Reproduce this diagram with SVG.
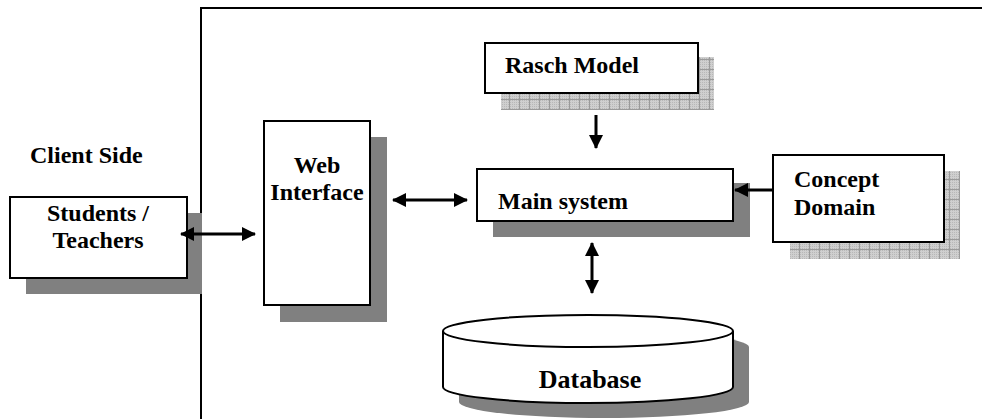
<svg xmlns="http://www.w3.org/2000/svg" width="982" height="419" viewBox="0 0 982 419">
  <defs>
    <style>
      .box { fill: #ffffff; stroke: #000000; stroke-width: 2; }
      .shadow { fill: #808080; }
      .hatch { fill: url(#grid); }
      .label { font-family: "Liberation Serif", "Times New Roman", serif; font-weight: bold; font-size: 24px; fill: #000000; }
      .wire { stroke: #000000; stroke-width: 3; fill: none; }
      .frame { stroke: #000000; stroke-width: 2; fill: none; }
    </style>
    <!-- fine dotted texture inside a 10px grid -->
    <pattern id="dots" width="2" height="2" patternUnits="userSpaceOnUse">
      <rect width="2" height="2" fill="#cfcfcf"/>
      <rect width="1" height="1" fill="#b8b8b8"/>
    </pattern>
    <pattern id="grid" width="10" height="10" patternUnits="userSpaceOnUse">
      <rect width="10" height="10" fill="url(#dots)"/>
      <path d="M9.5 0V10M0 9.5H10" stroke="#9a9a9a" stroke-width="1"/>
    </pattern>
    <marker id="head" viewBox="0 0 14 14" refX="13" refY="7" markerWidth="14" markerHeight="14" markerUnits="userSpaceOnUse" orient="auto-start-reverse">
      <path d="M0 0L14 7L0 14Z" fill="#000000"/>
    </marker>
  </defs>

  <!-- server-side boundary -->
  <path class="frame" d="M201 419V8H982"/>

  <g id="client-side">
    <text class="label" x="30" y="163">Client Side</text>
  </g>

  <g id="students-teachers">
    <rect class="shadow" x="26" y="213" width="176" height="81"/>
    <rect class="box" x="10" y="197" width="177" height="81"/>
    <text class="label" x="98" y="221" text-anchor="middle">Students /</text>
    <text class="label" x="98" y="248" text-anchor="middle">Teachers</text>
  </g>

  <g id="web-interface">
    <rect class="shadow" x="280" y="137" width="107" height="185"/>
    <rect class="box" x="264" y="121" width="106" height="184"/>
    <text class="label" x="317" y="173" text-anchor="middle">Web</text>
    <text class="label" x="317" y="200" text-anchor="middle">Interface</text>
  </g>

  <g id="rasch-model">
    <rect class="hatch" x="501" y="57" width="213" height="53"/>
    <rect class="box" x="485" y="43" width="213" height="50"/>
    <text class="label" x="505" y="73">Rasch Model</text>
  </g>

  <g id="main-system">
    <rect class="shadow" x="493" y="183" width="257" height="54"/>
    <rect class="box" x="477" y="169" width="256" height="52"/>
    <text class="label" x="498" y="209">Main system</text>
  </g>

  <g id="concept-domain">
    <rect class="hatch" x="790" y="171" width="170" height="88"/>
    <rect class="box" x="773" y="155" width="171" height="87"/>
    <text class="label" x="794" y="187">Concept</text>
    <text class="label" x="794" y="215">Domain</text>
  </g>

  <g id="database">
    <path class="shadow" d="M459 347A145 16 0 0 1 749 347V402A145 16 0 0 1 459 402Z"/>
    <path class="box" d="M443 331V387A145 16 0 0 0 733 387V331"/>
    <ellipse class="box" cx="588" cy="331" rx="145" ry="16"/>
    <text class="label" x="590" y="388" text-anchor="middle" style="font-size:26px">Database</text>
  </g>

  <g id="connectors">
    <line class="wire" x1="181" y1="234" x2="255" y2="234" marker-start="url(#head)" marker-end="url(#head)"/>
    <line class="wire" x1="393" y1="200" x2="467" y2="200" marker-start="url(#head)" marker-end="url(#head)"/>
    <line class="wire" x1="596" y1="115" x2="596" y2="148" marker-end="url(#head)"/>
    <line class="wire" x1="773" y1="190" x2="735" y2="190" marker-end="url(#head)"/>
    <line class="wire" x1="592" y1="243" x2="592" y2="293" marker-start="url(#head)" marker-end="url(#head)"/>
  </g>
</svg>
